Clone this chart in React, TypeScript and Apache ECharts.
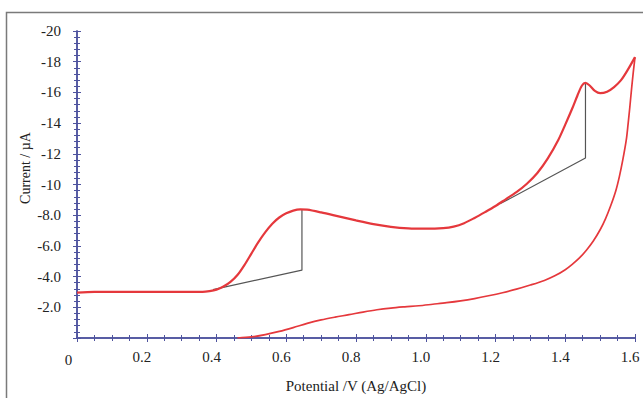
import React, { useEffect, useRef } from "react";
import * as echarts from "echarts";

// Forward (anodic) scan: potential (V) and current (µA)
const forwardX = [0.0, 0.05, 0.1, 0.2, 0.3, 0.36, 0.38, 0.4, 0.42, 0.44, 0.46, 0.48, 0.5, 0.52, 0.54, 0.56, 0.58, 0.6, 0.62, 0.64, 0.66, 0.7, 0.75, 0.8, 0.85, 0.9, 0.95, 1.0, 1.05, 1.08, 1.11, 1.14, 1.17, 1.2, 1.23, 1.26, 1.29, 1.32, 1.35, 1.38, 1.4, 1.42, 1.435, 1.448, 1.458, 1.47, 1.485, 1.5, 1.52, 1.54, 1.56, 1.58, 1.6];
const forwardY = [-2.95, -3.0, -3.0, -3.0, -3.0, -3.0, -3.05, -3.15, -3.35, -3.65, -4.1, -4.75, -5.5, -6.25, -6.9, -7.45, -7.85, -8.12, -8.3, -8.38, -8.36, -8.18, -7.92, -7.66, -7.42, -7.24, -7.14, -7.12, -7.16, -7.26, -7.48, -7.82, -8.2, -8.6, -9.05, -9.5, -10.05, -10.75, -11.7, -12.9, -13.9, -14.95, -15.8, -16.45, -16.62, -16.45, -16.1, -15.95, -16.05, -16.35, -16.8, -17.5, -18.3];

// Reverse scan
const reverseX = [1.6, 1.595, 1.59, 1.585, 1.58, 1.575, 1.565, 1.555, 1.545, 1.53, 1.515, 1.5, 1.48, 1.46, 1.44, 1.42, 1.4, 1.37, 1.34, 1.3, 1.26, 1.22, 1.18, 1.14, 1.1, 1.06, 1.02, 0.98, 0.94, 0.9, 0.86, 0.82, 0.78, 0.74, 0.7, 0.66, 0.62, 0.58, 0.54, 0.5, 0.46];
const reverseY = [-18.3, -17.3, -16.2, -15.0, -13.9, -12.9, -11.6, -10.5, -9.6, -8.6, -7.75, -7.05, -6.3, -5.7, -5.2, -4.8, -4.45, -4.05, -3.75, -3.45, -3.18, -2.95, -2.75, -2.57, -2.42, -2.3, -2.2, -2.1, -2.03, -1.95, -1.84, -1.69, -1.52, -1.36, -1.18, -0.95, -0.68, -0.43, -0.22, -0.07, 0.0];

// Peak baselines (tangent + vertical drop)
const base1X = [0.39, 0.645, 0.645];
const base1Y = [-3.15, -4.42, -8.38];
const base2X = [1.213, 1.458, 1.458];
const base2Y = [-8.74, -11.73, -16.62];

const zip = (xs: number[], ys: number[]) => xs.map((x, i) => [x, ys[i]]);

const FONT = "'Liberation Serif', 'Times New Roman', serif";
const AXIS = "#4e539e";
const RED = "#e5383c";
const TEXT = "#222";

export default function App() {
  const ref = useRef<HTMLDivElement>(null);
  useEffect(() => {
    if (!ref.current) return;
    const chart = echarts.init(ref.current, undefined, { renderer: "svg" });
    const axisCommon = {
      axisLine: { show: true, lineStyle: { color: AXIS, width: 1.5 } },
      axisTick: { show: true, inside: false, length: 4, lineStyle: { color: AXIS, width: 1 } },
      minorTick: { show: true, length: 3, lineStyle: { color: AXIS, width: 1 } },
      splitLine: { show: false },
      minorSplitLine: { show: false },
    };
    chart.setOption({
      animation: false,
      backgroundColor: "#ffffff",
      grid: { left: 77, right: 8, top: 31, bottom: 55 },
      xAxis: [
        {
          type: "value",
          min: 0,
          max: 1.6,
          interval: 0.2,
          position: "bottom",
          ...axisCommon,
          minorTick: { ...axisCommon.minorTick, splitNumber: 4 },
          axisLabel: {
            margin: 11,
            fontFamily: FONT,
            fontSize: 15,
            color: TEXT,
            padding: [0, 10, 0, 0],
            formatter: (v: number) => (v === 0 ? "" : v.toFixed(1)),
          },
          name: "Potential /V (Ag/AgCl)",
          nameLocation: "middle",
          nameGap: 40,
          nameTextStyle: { fontFamily: FONT, fontSize: 15, color: TEXT },
        },
        {
          type: "value",
          min: 0,
          max: 1.6,
          interval: 0.2,
          position: "top",
          ...axisCommon,
          minorTick: { ...axisCommon.minorTick, splitNumber: 4 },
          axisLabel: { show: false },
        },
      ],
      yAxis: [
        {
          type: "value",
          min: -20,
          max: 0,
          interval: 2,
          inverse: true,
          position: "left",
          ...axisCommon,
          minorTick: { ...axisCommon.minorTick, splitNumber: 5 },
          axisLabel: {
            margin: 16,
            fontFamily: FONT,
            fontSize: 15,
            color: TEXT,
            formatter: (v: number) =>
              v === 0 ? "" : Math.abs(v) >= 10 ? String(v) : v.toFixed(1),
          },
        },
        {
          type: "value",
          min: -20,
          max: 0,
          interval: 2,
          inverse: true,
          position: "right",
          ...axisCommon,
          minorTick: { ...axisCommon.minorTick, splitNumber: 5 },
          axisLabel: { show: false },
        },
      ],
      graphic: [
        {
          type: "rect",
          shape: { x: 6.5, y: 12.5, width: 700, height: 500 },
          style: { fill: "none", stroke: "#7a7a7a", lineWidth: 1.5 },
          silent: true,
          z: -1,
        },
        {
          type: "text",
          x: 68.5,
          y: 360,
          style: { text: "0", font: `15px ${FONT}`, fill: TEXT, align: "center", verticalAlign: "middle" },
        },
        {
          type: "text",
          x: 25,
          y: 168,
          rotation: Math.PI / 2,
          style: { text: "Current / µA", font: `14px ${FONT}`, fill: TEXT, align: "center", verticalAlign: "middle" },
        },
      ],
      series: [
        {
          type: "line",
          data: zip(forwardX, forwardY),
          smooth: 0.3,
          symbol: "none",
          lineStyle: { color: RED, width: 2.2 },
          z: 3,
        },
        {
          type: "line",
          data: zip(reverseX, reverseY),
          smooth: 0.3,
          symbol: "none",
          lineStyle: { color: RED, width: 1.7 },
          z: 3,
        },
        {
          type: "line",
          data: zip(base1X, base1Y),
          symbol: "none",
          lineStyle: { color: "#555", width: 1.2 },
          z: 2,
        },
        {
          type: "line",
          data: zip(base2X, base2Y),
          symbol: "none",
          lineStyle: { color: "#555", width: 1.2 },
          z: 2,
        },
      ],
    });
    return () => chart.dispose();
  }, []);
  return (
    <div
      ref={ref}
      style={{ position: "fixed", left: 0, top: 0, width: 643, height: 398, background: "#fff" }}
    />
  );
}
